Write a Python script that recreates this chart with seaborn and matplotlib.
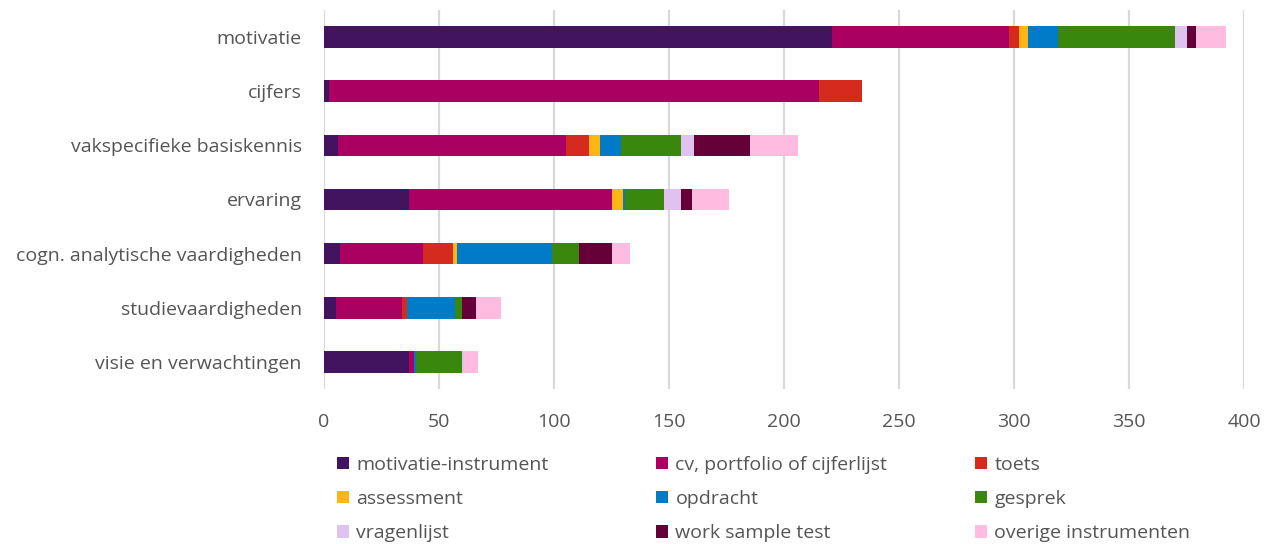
import matplotlib
matplotlib.use("Agg")
import matplotlib.pyplot as plt
import seaborn as sns
import numpy as np
import pandas as pd
from matplotlib.patches import Patch

categories = ["motivatie", "cijfers", "vakspecifieke basiskennis", "ervaring",
              "cogn. analytische vaardigheden", "studievaardigheden",
              "visie en verwachtingen"]

series_names = ["motivatie-instrument", "cv, portfolio of cijferlijst", "toets",
                "assessment", "opdracht", "gesprek", "vragenlijst",
                "work sample test", "overige instrumenten"]

motivatie_instrument = [221, 2, 6, 37, 7, 5, 37]
cv_portfolio = [77, 213, 99, 88, 36, 29, 2]
toets = [4, 19, 10, 0, 13, 2, 0]
assessment = [4, 0, 5, 5, 2, 0, 0]
opdracht = [13, 0, 9, 1, 41, 21, 1]
gesprek = [51, 0, 26, 17, 12, 3, 20]
vragenlijst = [5, 0, 6, 7, 0, 0, 1]
work_sample_test = [4, 0, 24, 5, 14, 6, 0]
overige = [13, 0, 21, 16, 8, 11, 6]

colors = ["#42145f", "#a90061", "#d52b1e", "#ffb612", "#007bc7",
          "#39870c", "#dfc2f0", "#650039", "#ffbbe0"]

xticks = [0, 50, 100, 150, 200, 250, 300, 350, 400]

series = [motivatie_instrument, cv_portfolio, toets, assessment, opdracht,
          gesprek, vragenlijst, work_sample_test, overige]

df = pd.DataFrame({name: vals for name, vals in zip(series_names, series)})
df["categorie"] = categories
cum = df[series_names].cumsum(axis=1)

sns.set_theme(style="white")
plt.rcParams["font.family"] = ["Open Sans", "DejaVu Sans"]
text_color = "#555555"

fig = plt.figure(figsize=(12.78, 5.44), dpi=100)
ax = fig.add_axes([324 / 1278, 1 - 389 / 544, 920 / 1278, 379 / 544])

for i in range(len(series_names) - 1, -1, -1):
    sns.barplot(x=cum[series_names[i]], y=df["categorie"], orient="h",
                color=colors[i], saturation=1, width=0.4, linewidth=0,
                ax=ax, zorder=3)

ax.set_xlim(0, 400)
ax.set_xticks(xticks)
ax.set_xticklabels([str(t) for t in xticks])
ax.set_xlabel("")
ax.set_ylabel("")
ax.grid(axis="x", color="#d9d9d9", linewidth=1.6, zorder=0)
ax.grid(axis="y", visible=False)
for s in ax.spines.values():
    s.set_visible(False)
ax.tick_params(axis="both", length=0, labelsize=14, colors=text_color)
ax.tick_params(axis="y", pad=16)
ax.tick_params(axis="x", pad=17)

handles = [Patch(facecolor=c, edgecolor="none") for c in colors]
col_x = [337 / 1278, 656 / 1278, 975 / 1278]
for col in range(3):
    idx = [col, col + 3, col + 6]
    fig.legend([handles[j] for j in idx], [series_names[j] for j in idx],
               loc="upper left", bbox_to_anchor=(col_x[col], 1 - 456 / 544),
               ncol=1, frameon=False, fontsize=14, labelcolor=text_color,
               handlelength=0.6, handleheight=0.6, handletextpad=0.4,
               labelspacing=0.83, borderpad=0, borderaxespad=0)

fig.savefig("out.png", dpi=100)
